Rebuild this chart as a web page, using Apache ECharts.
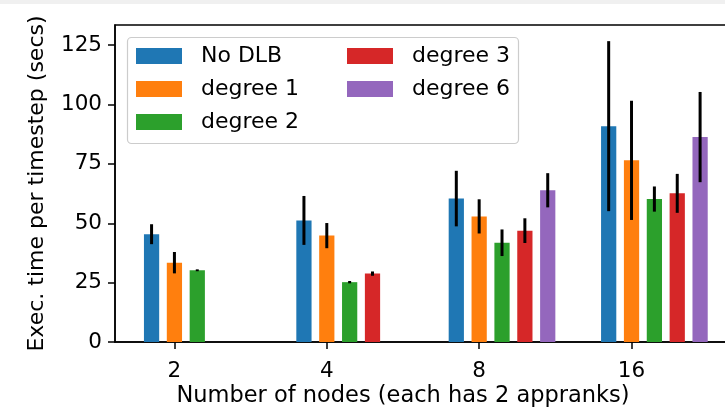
<!DOCTYPE html>
<html>
<head>
<meta charset="utf-8">
<script src="https://cdn.jsdelivr.net/npm/echarts@6/dist/echarts.min.js"></script>
<style>
html,body{margin:0;padding:0;background:#fff;}
#chart{width:725px;height:407px;}
</style>
</head>
<body>
<div id="chart"></div>
<script>
// ---- data ----
const categories = ['2', '4', '8', '16'];
const seriesNames = ['No DLB', 'degree 1', 'degree 2', 'degree 3', 'degree 6'];
const noDLB      = [45.4, 51.2, 60.4, 90.9];
const noDLBErr   = [4.2, 10.3, 11.7, 35.8];
const degree1    = [33.4, 44.8, 52.9, 76.5];
const degree1Err = [4.5, 5.3, 7.2, 25.1];
const degree2    = [30.2, 25.2, 41.8, 60.2];
const degree2Err = [0.4, 0.5, 5.6, 5.3];
const degree3    = [null, 28.8, 46.9, 62.6];
const degree3Err = [null, 0.9, 5.2, 8.2];
const degree6    = [null, null, 63.9, 86.3];
const degree6Err = [null, null, 7.2, 19.0];
const yTicks = [0, 25, 50, 75, 100, 125];

const values = [noDLB, degree1, degree2, degree3, degree6];
const errors = [noDLBErr, degree1Err, degree2Err, degree3Err, degree6Err];
const colors = ['#1f77b4', '#ff7f0e', '#2ca02c', '#d62728', '#9467bd'];
const FONT = 'DejaVu Sans';

const barOffset = 0.15, barHalf = 0.05;

function makeSeries(si) {
  const data = [];
  values[si].forEach((v, ci) => {
    if (v !== null) data.push([ci, v, errors[si][ci]]);
  });
  return {
    type: 'custom',
    name: seriesNames[si],
    itemStyle: { color: colors[si] },
    encode: { x: 0, y: 1 },
    data: data,
    renderItem: function (params, api) {
      const x = api.value(0) + (si - 1) * barOffset;
      const v = api.value(1), e = api.value(2);
      const p0 = api.coord([x - barHalf, v]);
      const p1 = api.coord([x + barHalf, 0]);
      const c = api.coord([x, 0]);
      const top = api.coord([x, v + e]);
      const bot = api.coord([x, v - e]);
      return {
        type: 'group',
        children: [
          { type: 'rect', shape: { x: p0[0], y: p0[1], width: p1[0] - p0[0], height: p1[1] - p0[1] },
            style: { fill: colors[si] } },
          { type: 'line', shape: { x1: c[0], y1: top[1], x2: c[0], y2: bot[1] },
            style: { stroke: '#000', lineWidth: 3 }, z2: 10 }
        ]
      };
    }
  };
}

const chart = echarts.init(document.getElementById('chart'), null, { renderer: 'canvas' });
const legendText = { fontFamily: FONT, fontSize: 22, color: '#000', lineHeight: 22, padding: [0, 0, 0, 14] };

chart.setOption({
  animation: false,
  textStyle: { fontFamily: FONT },
  grid: { left: 115, top: 25, width: 611, height: 317, show: true, borderColor: '#000', borderWidth: 1.5,
    backgroundColor: 'transparent', containLabel: false, outerBoundsMode: 'none' },
  graphic: [
    { type: 'rect', left: 0, top: 0, shape: { width: 725, height: 4 }, style: { fill: '#f0f0f0' }, silent: true },
    { type: 'rect', shape: { x: 127.5, y: 37.5, width: 391, height: 106, r: 4 },
      style: { fill: 'rgba(255,255,255,0.8)', stroke: '#cccccc', lineWidth: 1.2 }, z: 5, silent: true }
  ],
  legend: [
    { data: seriesNames.slice(0, 3), orient: 'vertical', left: 136, top: 45, padding: 0, itemGap: 11,
      itemWidth: 46, itemHeight: 16, icon: 'rect', textStyle: legendText, z: 10, selectedMode: false },
    { data: seriesNames.slice(3), orient: 'vertical', left: 347, top: 45, padding: 0, itemGap: 11,
      itemWidth: 46, itemHeight: 16, icon: 'rect', textStyle: legendText, z: 10, selectedMode: false }
  ],
  xAxis: {
    type: 'value', min: -0.39, max: 3.62,
    name: 'Number of nodes (each has 2 appranks)', nameLocation: 'middle', nameGap: 43, nameMoveOverlap: false,
    nameTextStyle: { fontFamily: FONT, fontSize: 22.5, color: '#000', padding: [0, 35, 0, 0] },
    axisLine: { show: true, onZero: false, lineStyle: { color: '#000', width: 1.5 } },
    axisTick: { show: true, length: 7, lineStyle: { color: '#000', width: 1.5 }, customValues: [0, 1, 2, 3] },
    axisLabel: { customValues: [0, 1, 2, 3], formatter: v => categories[Math.round(v)], margin: 18,
      fontFamily: FONT, fontSize: 21.5, color: '#000' },
    splitLine: { show: false }
  },
  yAxis: {
    type: 'value', min: 0, max: 133.5,
    name: 'Exec. time per timestep (secs)', nameLocation: 'middle', nameGap: 67, nameMoveOverlap: false,
    nameTextStyle: { fontFamily: FONT, fontSize: 22, color: '#000' },
    axisLine: { show: true, onZero: false, lineStyle: { color: '#000', width: 1.5 } },
    axisTick: { show: true, length: 7, lineStyle: { color: '#000', width: 1.5 }, customValues: yTicks },
    axisLabel: { customValues: yTicks, margin: 13, fontFamily: FONT, fontSize: 21.5, color: '#000' },
    splitLine: { show: false }
  },
  series: seriesNames.map((n, i) => makeSeries(i))
});
</script>
</body>
</html>
